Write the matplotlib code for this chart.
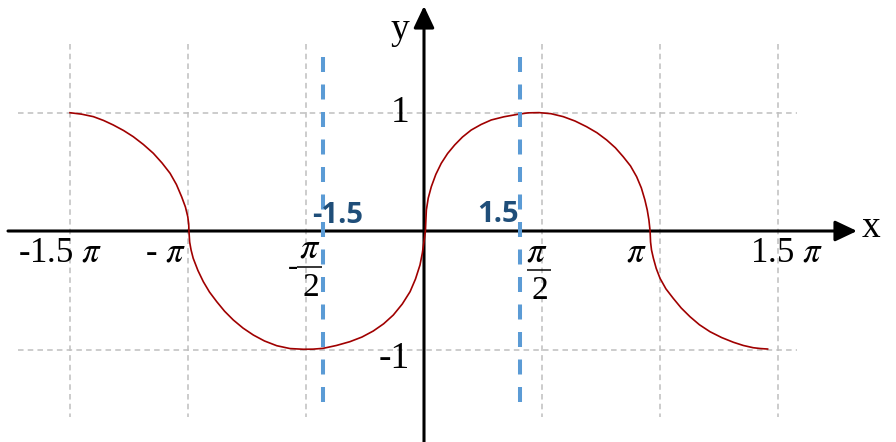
import numpy as np
import matplotlib
matplotlib.use("Agg")
import matplotlib.pyplot as plt
from matplotlib.transforms import offset_copy

plt.rcParams['mathtext.fontset'] = 'stix'
plt.rcParams['lines.scale_dashes'] = False
plt.rcParams['font.family'] = ['Liberation Serif', 'DejaVu Serif']

PI = np.pi

# ---- data (x in units of pi) ----
curve_x_pi = [
    -1.500, -1.451, -1.401, -1.358, -1.317, -1.273, -1.232, -1.189, -1.147, -1.110,
    -1.076, -1.049, -1.027, -1.011, -1.001, -0.997, -0.996,
    -0.993, -0.987, -0.978, -0.958, -0.935, -0.909, -0.878, -0.845, -0.808, -0.767,
    -0.723, -0.676, -0.624, -0.568, -0.511, -0.470, -0.427, -0.371, -0.314, -0.263,
    -0.215, -0.171, -0.130, -0.092, -0.059, -0.036, -0.017, -0.007, 0.000, 0.006,
    0.008, 0.010, 0.018, 0.031, 0.050, 0.073, 0.100, 0.130, 0.163, 0.200, 0.242,
    0.285, 0.339, 0.398, 0.441, 0.487, 0.538, 0.590, 0.640, 0.689, 0.733, 0.774,
    0.811, 0.844, 0.875, 0.901, 0.921, 0.936, 0.946, 0.953, 0.958,
    0.960, 0.964, 0.972, 0.984, 1.000, 1.025, 1.056, 1.090, 1.127, 1.167, 1.212,
    1.261, 1.311, 1.353, 1.395, 1.426, 1.456]
curve_y = [
    0.998, 0.986, 0.965, 0.933, 0.895, 0.848, 0.796, 0.730, 0.656, 0.574,
    0.487, 0.392, 0.289, 0.203, 0.121, 0.059, 0.0,
    -0.093, -0.160, -0.230, -0.333, -0.428, -0.515, -0.597, -0.677, -0.751, -0.819,
    -0.878, -0.928, -0.968, -0.992, -0.998, -0.997, -0.990, -0.966, -0.934, -0.895,
    -0.844, -0.783, -0.709, -0.616, -0.512, -0.405, -0.287, -0.186, -0.090, 0.0,
    0.093, 0.177, 0.278, 0.374, 0.477, 0.571, 0.654, 0.726, 0.793, 0.852, 0.899,
    0.937, 0.964, 0.985, 0.997, 0.999, 0.990, 0.965, 0.928, 0.880, 0.829, 0.768,
    0.702, 0.627, 0.549, 0.458, 0.363, 0.262, 0.177, 0.093, 0.0,
    -0.093, -0.160, -0.230, -0.316, -0.399, -0.488, -0.568, -0.650, -0.723, -0.791,
    -0.850, -0.899, -0.939, -0.966, -0.985, -0.992, -0.996]

xtick_pi = [-1.5, -1.0, 1.0, 1.5]
xtick_labels = ["-1.5 $\\pi$", "- $\\pi$", "$\\pi$", "1.5 $\\pi$"]
frac_tick_pi = [-0.5, 0.5]
frac_sign = ["-", ""]
ytick_vals = [1, -1]
ytick_labels = ["1", "-1"]

vline_x = [-1.348, 1.274]
vline_labels = ["-1.5", "1.5"]

# ---- figure ----
W, H = 896, 442
fig = plt.figure(figsize=(W / 100, H / 100), dpi=100)
ax = fig.add_axes([0, 0, 1, 1])
ax.axis('off')
ox, oy = 424.0, 231.0      # pixel position of origin
sx, sy = 236.0 / PI, 118.5  # pixels per data unit
ax.set_xlim(-ox / sx, (W - ox) / sx)
ax.set_ylim(-(H - oy) / sy, oy / sy)


def px2x(p):
    return (p - ox) / sx


def px2y(p):
    return (oy - p) / sy


def off(dx, dy):
    return offset_copy(ax.transData, fig=fig, x=dx, y=dy, units='dots')


grid_kw = dict(color='#BFBFBF', lw=1.1, dashes=(4.0, 3.0), zorder=1)
for t in xtick_pi + frac_tick_pi:
    ax.plot([t * PI, t * PI], [px2y(44), px2y(417)], **grid_kw)
for v in ytick_vals:
    ax.plot([px2x(18), px2x(797)], [v, v], **grid_kw)

# axes with arrows
arrow_kw = dict(arrowstyle='-|>,head_length=0.95,head_width=0.45', lw=2.2,
                color='black', shrinkA=0, shrinkB=0, mutation_scale=14)
ax.annotate('', xy=(px2x(857), 0), xytext=(px2x(8), 0), arrowprops=arrow_kw, zorder=3)
ax.annotate('', xy=(0, px2y(6)), xytext=(0, px2y(450)), arrowprops=arrow_kw, zorder=3)

# curve
ax.plot(np.array(curve_x_pi) * PI, curve_y, color='#A00000', lw=1.2, zorder=4,
        solid_joinstyle='round')

# blue dashed lines
for xv in vline_x:
    ax.plot([xv, xv], [px2y(57), px2y(404)], color='#5B9BD5', lw=2.9,
            dashes=(10.8, 9.0), zorder=5)

# simple tick labels
xlab_offsets = [(-10, -31), (-23, -31), (-24, -30), (8, -30)]
for t, lab, (dx, dy) in zip(xtick_pi, xtick_labels, xlab_offsets):
    ax.text(t * PI, 0, lab, transform=off(dx, dy), ha='center', va='baseline',
            fontsize=25, color='black', zorder=6)

# fraction tick labels (pi over 2)
frac_geom = [  # (bar_dx_left, bar_dx_right, bar_dy, num_dx, den_dx, sign_dx)
    (-9, 16, -36, 4, 4.5, -13),
    (-15, 9, -39, -5, -2, 0)]
for t, sgn, (bl, br, bdy, ndx, ddx, sdx) in zip(frac_tick_pi, frac_sign, frac_geom):
    x0 = t * PI
    ax.plot([x0 + bl / sx, x0 + br / sx], [bdy / sy, bdy / sy], color='black',
            lw=1.1, solid_capstyle='butt', zorder=6)
    ax.text(x0, 0, "$\\pi$", transform=off(ndx, bdy + 9), ha='center',
            va='baseline', fontsize=26, zorder=6)
    ax.text(x0, 0, "2", transform=off(ddx, bdy - 29), ha='center',
            va='baseline', fontsize=24, zorder=6)
    if sgn:
        ax.text(x0, 0, sgn, transform=off(sdx, bdy - 8), ha='center',
                va='baseline', fontsize=22, zorder=6)

ylab_offsets = [(-24, -9), (-30, -19)]
for v, lab, (dx, dy) in zip(ytick_vals, ytick_labels, ylab_offsets):
    ax.text(0, v, lab, transform=off(dx, dy), ha='center', va='baseline',
            fontsize=27, color='black', zorder=6)

# blue labels
blab_offsets = [(15, 8), (-22, 9)]
for xv, lab, (dx, dy) in zip(vline_x, vline_labels, blab_offsets):
    ax.text(xv, 0, lab, transform=off(dx, dy), ha='center', va='baseline',
            fontsize=21, fontfamily='Open Sans', fontweight='bold',
            color='#1F4E79', zorder=7)

# axis names
fig.text(871 / W, 1 - 237 / H, 'x', ha='center', va='baseline', fontsize=27)
fig.text(400 / W, 1 - 39 / H, 'y', ha='center', va='baseline', fontsize=27)

fig.savefig('out.png', dpi=100)
